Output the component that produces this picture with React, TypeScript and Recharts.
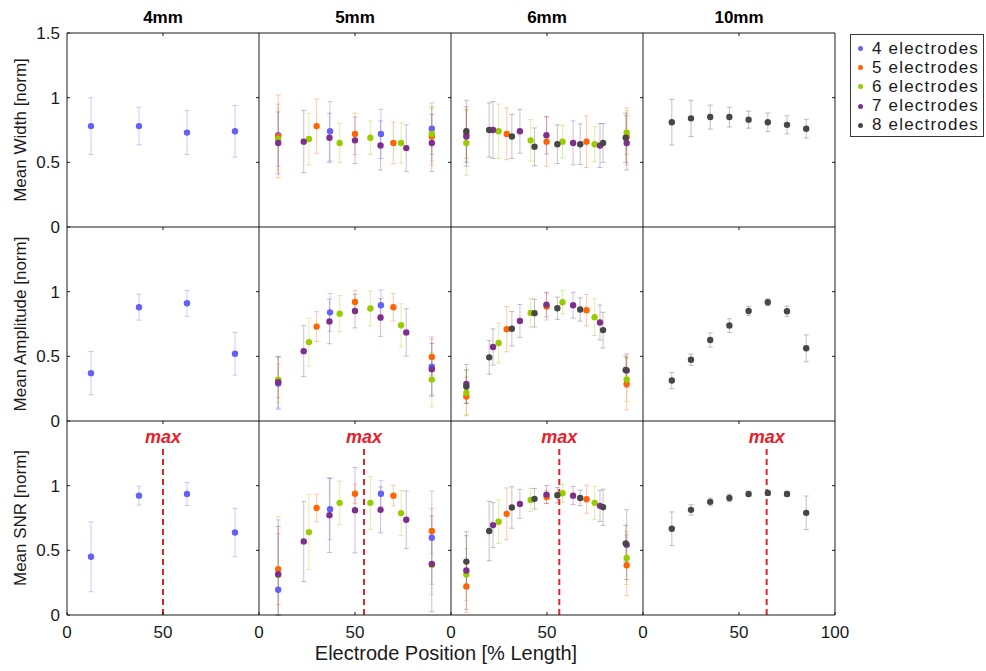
import React from 'react';
import {
  ScatterChart,
  Scatter,
  XAxis,
  YAxis,
  ErrorBar,
  ReferenceLine,
  ReferenceDot,
  Legend,
} from 'recharts';

// ---------- labels & categories ----------
const spacingTitles = ['4mm', '5mm', '6mm', '10mm'];
const rowLabels = ['Mean Width [norm]', 'Mean Amplitude [norm]', 'Mean SNR [norm]'];
const xAxisTitle = 'Electrode Position [% Length]';
const electrodeCounts = [4, 5, 6, 7, 8];
const legendLabels = ['4 electrodes', '5 electrodes', '6 electrodes', '7 electrodes', '8 electrodes'];
const seriesColors = ['#6262f7', '#ff6400', '#99cc00', '#7e2f8e', '#474747'];
const snrMaxPosition = [50, 54.7, 56.4, 64.4];
const snrMaxTop = 1.3;
const snrMaxLabelY = 1.38;

// ---------- electrode positions [% length] ----------
const pos4mmE4 = [12.5, 37.5, 62.5, 87.5];
const pos5mmE4 = [10, 37, 63.5, 90];
const pos5mmE5 = [10, 30, 50, 70, 90];
const pos5mmE6 = [10, 26, 42, 58, 74, 90];
const pos5mmE7 = [10, 23.3, 36.7, 50, 63.3, 76.7, 90];
const pos6mmE5 = [8, 29, 49.8, 70.6, 91.5];
const pos6mmE6 = [8, 24.8, 41.5, 58.1, 74.8, 91.5];
const pos6mmE7 = [8, 21.9, 35.9, 49.7, 63.6, 77.6, 91.5];
const pos6mmE8 = [8, 19.9, 31.7, 43.5, 55.4, 67.3, 79.2, 91];
const pos10mmE8 = [15, 25, 35, 45, 55, 65, 75, 85];

// ---------- mean width [mean, sd] ----------
const width4mmE4 = [[0.78, 0.22], [0.78, 0.145], [0.73, 0.17], [0.74, 0.2]];
const width5mmE4 = [[0.71, 0.24], [0.74, 0.23], [0.72, 0.19], [0.76, 0.2]];
const width5mmE5 = [[0.7, 0.32], [0.78, 0.21], [0.72, 0.16], [0.65, 0.16], [0.7, 0.22]];
const width5mmE6 = [[0.68, 0.24], [0.68, 0.2], [0.65, 0.15], [0.69, 0.13], [0.65, 0.155], [0.72, 0.21]];
const width5mmE7 = [[0.65, 0.24], [0.66, 0.24], [0.69, 0.19], [0.67, 0.18], [0.63, 0.19], [0.61, 0.18], [0.65, 0.22]];
const width6mmE5 = [[0.72, 0.19], [0.72, 0.2], [0.66, 0.19], [0.66, 0.2], [0.7, 0.22]];
const width6mmE6 = [[0.65, 0.25], [0.74, 0.21], [0.67, 0.16], [0.66, 0.127], [0.64, 0.135], [0.73, 0.17]];
const width6mmE7 = [[0.7, 0.23], [0.75, 0.22], [0.74, 0.17], [0.71, 0.146], [0.65, 0.17], [0.63, 0.17], [0.65, 0.21]];
const width6mmE8 = [[0.74, 0.24], [0.75, 0.21], [0.7, 0.17], [0.62, 0.146], [0.64, 0.15], [0.64, 0.157], [0.65, 0.15], [0.69, 0.19]];
const width10mmE8 = [[0.81, 0.177], [0.84, 0.14], [0.85, 0.093], [0.85, 0.077], [0.83, 0.066], [0.81, 0.072], [0.79, 0.07], [0.76, 0.073]];

// ---------- mean amplitude [mean, sd] ----------
const amp4mmE4 = [[0.37, 0.167], [0.88, 0.1], [0.91, 0.1], [0.52, 0.165]];
const amp5mmE4 = [[0.29, 0.2], [0.84, 0.146], [0.895, 0.118], [0.42, 0.23]];
const amp5mmE5 = [[0.31, 0.13], [0.73, 0.115], [0.92, 0.09], [0.88, 0.107], [0.495, 0.14]];
const amp5mmE6 = [[0.32, 0.18], [0.61, 0.185], [0.83, 0.14], [0.87, 0.135], [0.74, 0.167], [0.32, 0.21]];
const amp5mmE7 = [[0.3, 0.2], [0.54, 0.197], [0.77, 0.173], [0.85, 0.13], [0.8, 0.146], [0.685, 0.183], [0.4, 0.2]];
const amp6mmE5 = [[0.19, 0.15], [0.71, 0.175], [0.885, 0.104], [0.857, 0.122], [0.287, 0.2]];
const amp6mmE6 = [[0.218, 0.17], [0.603, 0.154], [0.836, 0.11], [0.918, 0.09], [0.803, 0.142], [0.321, 0.17]];
const amp6mmE7 = [[0.287, 0.15], [0.572, 0.14], [0.774, 0.127], [0.9, 0.096], [0.895, 0.1], [0.762, 0.135], [0.39, 0.13]];
const amp6mmE8 = [[0.267, 0.13], [0.492, 0.13], [0.713, 0.133], [0.834, 0.107], [0.872, 0.086], [0.862, 0.09], [0.703, 0.138], [0.395, 0.108]];
const amp10mmE8 = [[0.313, 0.062], [0.474, 0.044], [0.626, 0.055], [0.738, 0.053], [0.851, 0.036], [0.918, 0.027], [0.849, 0.04], [0.562, 0.104]];

// ---------- mean SNR [mean, sd] ----------
const snr4mmE4 = [[0.45, 0.27], [0.923, 0.073], [0.936, 0.09], [0.638, 0.187]];
const snr5mmE4 = [[0.195, 0.54], [0.818, 0.237], [0.938, 0.1], [0.598, 0.36]];
const snr5mmE5 = [[0.355, 0.275], [0.828, 0.107], [0.938, 0.074], [0.923, 0.08], [0.649, 0.175]];
const snr5mmE6 = [[0.31, 0.45], [0.641, 0.29], [0.867, 0.168], [0.867, 0.204], [0.788, 0.174], [0.387, 0.23]];
const snr5mmE7 = [[0.315, 0.37], [0.569, 0.31], [0.772, 0.288], [0.81, 0.33], [0.813, 0.177], [0.736, 0.223], [0.395, 0.37]];
const snr6mmE5 = [[0.221, 0.2], [0.782, 0.2], [0.913, 0.05], [0.895, 0.108], [0.385, 0.235]];
const snr6mmE6 = [[0.313, 0.2], [0.721, 0.168], [0.89, 0.09], [0.941, 0.07], [0.867, 0.127], [0.441, 0.205]];
const snr6mmE7 = [[0.344, 0.3], [0.695, 0.174], [0.859, 0.113], [0.931, 0.07], [0.923, 0.07], [0.844, 0.12], [0.544, 0.27]];
const snr6mmE8 = [[0.413, 0.2], [0.649, 0.23], [0.831, 0.16], [0.898, 0.08], [0.926, 0.06], [0.905, 0.06], [0.833, 0.14], [0.554, 0.14]];
const snr10mmE8 = [[0.667, 0.13], [0.813, 0.04], [0.875, 0.03], [0.905, 0.03], [0.936, 0.02], [0.944, 0.02], [0.936, 0.02], [0.79, 0.13]];

// ---------- layout ----------
const FONT = '"Liberation Sans", Arial, Helvetica, sans-serif';
const PLOT_W = 192;
const PLOT_H = 194;
const COL_LEFT = [67, 259, 451, 643];
const ROW_TOP = [33, 227, 421];
const ML = 60;
const MR = 12;
const MT = 30;
const MB = 34;
const X_MAX = 100;
const Y_MAX = 1.5;
const TICK_PX = 3;
const TICK_DX = (TICK_PX / PLOT_W) * X_MAX;
const TICK_DY = (TICK_PX / PLOT_H) * Y_MAX;
const INK = '#1a1a1a';

type Group = { n: number; pos: number[]; vals: number[][] };

const grid: Group[][][] = [
  [
    [{ n: 4, pos: pos4mmE4, vals: width4mmE4 }],
    [
      { n: 4, pos: pos5mmE4, vals: width5mmE4 },
      { n: 5, pos: pos5mmE5, vals: width5mmE5 },
      { n: 6, pos: pos5mmE6, vals: width5mmE6 },
      { n: 7, pos: pos5mmE7, vals: width5mmE7 },
    ],
    [
      { n: 5, pos: pos6mmE5, vals: width6mmE5 },
      { n: 6, pos: pos6mmE6, vals: width6mmE6 },
      { n: 7, pos: pos6mmE7, vals: width6mmE7 },
      { n: 8, pos: pos6mmE8, vals: width6mmE8 },
    ],
    [{ n: 8, pos: pos10mmE8, vals: width10mmE8 }],
  ],
  [
    [{ n: 4, pos: pos4mmE4, vals: amp4mmE4 }],
    [
      { n: 4, pos: pos5mmE4, vals: amp5mmE4 },
      { n: 5, pos: pos5mmE5, vals: amp5mmE5 },
      { n: 6, pos: pos5mmE6, vals: amp5mmE6 },
      { n: 7, pos: pos5mmE7, vals: amp5mmE7 },
    ],
    [
      { n: 5, pos: pos6mmE5, vals: amp6mmE5 },
      { n: 6, pos: pos6mmE6, vals: amp6mmE6 },
      { n: 7, pos: pos6mmE7, vals: amp6mmE7 },
      { n: 8, pos: pos6mmE8, vals: amp6mmE8 },
    ],
    [{ n: 8, pos: pos10mmE8, vals: amp10mmE8 }],
  ],
  [
    [{ n: 4, pos: pos4mmE4, vals: snr4mmE4 }],
    [
      { n: 4, pos: pos5mmE4, vals: snr5mmE4 },
      { n: 5, pos: pos5mmE5, vals: snr5mmE5 },
      { n: 6, pos: pos5mmE6, vals: snr5mmE6 },
      { n: 7, pos: pos5mmE7, vals: snr5mmE7 },
    ],
    [
      { n: 5, pos: pos6mmE5, vals: snr6mmE5 },
      { n: 6, pos: pos6mmE6, vals: snr6mmE6 },
      { n: 7, pos: pos6mmE7, vals: snr6mmE7 },
      { n: 8, pos: pos6mmE8, vals: snr6mmE8 },
    ],
    [{ n: 8, pos: pos10mmE8, vals: snr10mmE8 }],
  ],
];

// error bars are clipped to the axes range, like the plot box does
const toPoints = (g: Group) =>
  g.pos.map((x, i) => {
    const [m, sd] = g.vals[i];
    return { x, y: m, err: [Math.min(sd, m), Math.min(sd, Y_MAX - m)] };
  });

const colorOf = (n: number) => seriesColors[electrodeCounts.indexOf(n)];

const tickFont = { fill: INK, fontSize: 17, fontFamily: FONT };
const axisStroke = { stroke: INK, strokeWidth: 1 };

function Panel({ row, col }: { row: number; col: number }) {
  const groups = grid[row][col];
  const isLeft = col === 0;
  const isBottom = row === 2;
  const isTop = row === 0;
  const isRight = col === 3;
  const yTicks = row === 0 ? [0, 0.5, 1, 1.5] : [0, 0.5, 1];
  const xTicks = col === 3 ? [0, 50, 100] : [0, 50];
  const W = ML + PLOT_W + MR;
  const H = MT + PLOT_H + MB;

  const titleLabel = (p: any) => {
    const vb = p.viewBox || {};
    return (
      <text
        x={vb.x + vb.width / 2}
        y={vb.y - 16}
        textAnchor="middle"
        dominantBaseline="central"
        fontFamily={FONT}
        fontWeight="bold"
        fontSize={17}
        fill="#000"
      >
        {spacingTitles[col]}
      </text>
    );
  };

  const rowLabel = (p: any) => {
    const vb = p.viewBox || {};
    const cx = vb.x + 13;
    const cy = vb.y + vb.height / 2;
    return (
      <text
        x={cx}
        y={cy}
        transform={`rotate(-90 ${cx} ${cy})`}
        textAnchor="middle"
        dominantBaseline="central"
        fontFamily={FONT}
        fontSize={17}
        fill={INK}
      >
        {rowLabels[row]}
      </text>
    );
  };

  const xTitle = (p: any) => {
    const vb = p.viewBox || {};
    return (
      <text
        x={vb.x + vb.width - 5}
        y={vb.y + 38}
        textAnchor="middle"
        dominantBaseline="central"
        fontFamily={FONT}
        fontSize={20}
        fill={INK}
      >
        {xAxisTitle}
      </text>
    );
  };

  return (
    <div style={{ position: 'absolute', left: COL_LEFT[col] - ML, top: ROW_TOP[row] - MT }}>
      <ScatterChart width={W} height={H} margin={{ top: MT, right: MR, bottom: 0, left: 0 }}>
        <XAxis
          xAxisId="b"
          type="number"
          dataKey="x"
          domain={[0, X_MAX]}
          ticks={xTicks}
          interval={0}
          orientation="bottom"
          height={MB}
          tick={isBottom ? tickFont : false}
          tickSize={-TICK_PX}
          tickMargin={14}
          axisLine={axisStroke}
          tickLine={axisStroke}
          allowDataOverflow
          label={isBottom && col === 1 ? xTitle : isTop ? undefined : undefined}
        />
        <YAxis
          yAxisId="l"
          type="number"
          dataKey="y"
          domain={[0, Y_MAX]}
          ticks={yTicks}
          interval={0}
          orientation="left"
          width={ML}
          tick={isLeft ? tickFont : false}
          tickSize={-TICK_PX}
          tickMargin={10}
          axisLine={axisStroke}
          tickLine={axisStroke}
          allowDataOverflow
          label={isLeft ? rowLabel : undefined}
        />
        {/* box: top and right edges with their inward ticks */}
        {isTop && (
          <ReferenceLine xAxisId="b" yAxisId="l" y={Y_MAX} stroke={INK} strokeWidth={1} label={titleLabel} />
        )}
        {isRight && <ReferenceLine xAxisId="b" yAxisId="l" x={X_MAX} stroke={INK} strokeWidth={1} />}
        <ReferenceLine
          xAxisId="b"
          yAxisId="l"
          segment={[
            { x: 50, y: Y_MAX },
            { x: 50, y: Y_MAX - TICK_DY },
          ]}
          stroke={INK}
          strokeWidth={1}
        />
        {[0.5, 1].map((t) => (
          <ReferenceLine
            key={t}
            xAxisId="b"
            yAxisId="l"
            segment={[
              { x: X_MAX, y: t },
              { x: X_MAX - TICK_DX, y: t },
            ]}
            stroke={INK}
            strokeWidth={1}
          />
        ))}
        {groups.map((g) => {
          const c = colorOf(g.n);
          return (
            <Scatter
              key={g.n}
              name={`${g.n} electrodes`}
              xAxisId="b"
              yAxisId="l"
              data={toPoints(g)}
              fill={c}
              isAnimationActive={false}
              shape={(p: any) => <circle cx={p.cx} cy={p.cy} r={3.2} fill={c} />}
            >
              <ErrorBar dataKey="err" direction="y" width={2.6} stroke={c} strokeOpacity={0.33} strokeWidth={1} />
            </Scatter>
          );
        })}
        {isBottom && (
          <ReferenceLine
            xAxisId="b"
            yAxisId="l"
            segment={[
              { x: snrMaxPosition[col], y: 0 },
              { x: snrMaxPosition[col], y: snrMaxTop },
            ]}
            stroke="#e8202a"
            strokeWidth={2}
            strokeDasharray="6 4"
          />
        )}
        {isBottom && (
          <ReferenceDot
            xAxisId="b"
            yAxisId="l"
            x={snrMaxPosition[col]}
            y={snrMaxLabelY}
            r={0}
            shape={(p: any) => (
              <text
                x={p.cx}
                y={p.cy}
                textAnchor="middle"
                dominantBaseline="central"
                fontFamily={FONT}
                fontWeight="bold"
                fontStyle="italic"
                fontSize={18}
                fill="#e8202a"
              >
                max
              </text>
            )}
          />
        )}
      </ScatterChart>
    </div>
  );
}

function LegendBox() {
  return (
    <div
      style={{
        position: 'relative',
        width: 134,
        height: 103,
        border: '1px solid #3a3a3a',
        boxSizing: 'border-box',
        background: '#fff',
        fontFamily: FONT,
      }}
    >
      {legendLabels.map((label, i) => (
        <div
          key={label}
          style={{
            position: 'absolute',
            left: 0,
            top: 4 + i * 19.2,
            height: 19.2,
            display: 'flex',
            alignItems: 'center',
            whiteSpace: 'nowrap',
          }}
        >
          <span
            style={{
              display: 'inline-block',
              width: 5,
              height: 5,
              borderRadius: '50%',
              background: seriesColors[i],
              marginLeft: 7,
              marginRight: 9,
            }}
          />
          <span style={{ fontSize: 17, color: INK, letterSpacing: 1.2 }}>{label}</span>
        </div>
      ))}
    </div>
  );
}

export default function App() {
  const cells: React.ReactNode[] = [];
  for (let r = 0; r < 3; r++) {
    for (let c = 0; c < 4; c++) {
      cells.push(<Panel key={`${r}-${c}`} row={r} col={c} />);
    }
  }
  return (
    <div
      style={{
        position: 'absolute',
        left: 0,
        top: 0,
        width: 986,
        height: 671,
        background: '#fff',
        overflow: 'hidden',
      }}
    >
      <style>{'.recharts-surface{overflow:visible}'}</style>
      {cells}
      <div style={{ position: 'absolute', left: 850, top: 34 }}>
        <ScatterChart width={134} height={103} margin={{ top: 0, right: 0, bottom: 0, left: 0 }}>
          <Legend
            content={() => <LegendBox />}
            wrapperStyle={{ left: 0, top: 0, width: 134, height: 103 }}
          />
        </ScatterChart>
      </div>
    </div>
  );
}
